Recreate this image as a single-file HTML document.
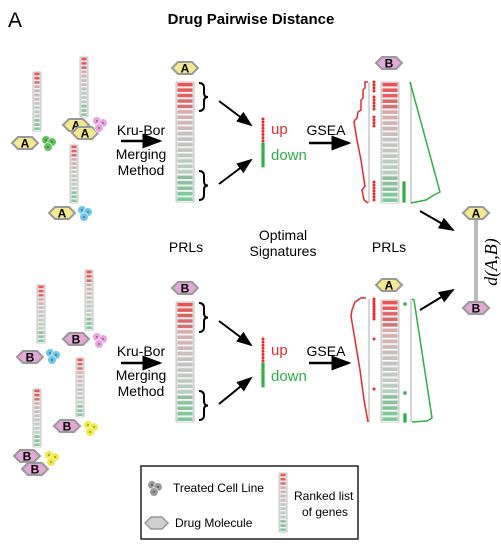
<!DOCTYPE html>
<html><head><meta charset="utf-8"><style>
html,body{margin:0;padding:0;background:#fff;}
svg{display:block;font-family:"Liberation Sans",Arial,sans-serif;}
</style></head><body>
<svg id="fig" width="501" height="547" viewBox="0 0 501 547" xmlns="http://www.w3.org/2000/svg">
<defs>
<marker id="ah" markerWidth="8" markerHeight="6" refX="7" refY="3" orient="auto"><path d="M0,0 L8,3 L0,6 z" fill="#000"/></marker>
</defs>
<text x="8" y="27" font-size="21">A</text>
<text x="251" y="24" font-size="15" font-weight="bold" text-anchor="middle">Drug Pairwise Distance</text>
<rect x="141" y="466" width="217" height="73" fill="#fff" stroke="#222" stroke-width="1.5"/>
<g id="g"></g>
<g font-size="14" text-anchor="middle">
<text x="141" y="135">Kru-Bor</text>
<text x="141" y="159">Merging</text>
<text x="141" y="175">Method</text>
<text x="141" y="356">Kru-Bor</text>
<text x="141" y="380">Merging</text>
<text x="141" y="396">Method</text>
<text x="326" y="135">GSEA</text>
<text x="326" y="356">GSEA</text>
<text x="186" y="252">PRLs</text>
<text x="283" y="240">Optimal</text>
<text x="283" y="256">Signatures</text>
<text x="389" y="252">PRLs</text>
</g>
<g font-size="15">
<text x="271" y="134" fill="#e8282a">up</text>
<text x="271" y="160" fill="#2fae46">down</text>
<text x="271" y="355" fill="#e8282a">up</text>
<text x="271" y="381" fill="#2fae46">down</text>
</g>
<text transform="translate(497,262) rotate(-90)" font-family="Liberation Serif,serif" font-style="italic" font-size="18" text-anchor="middle">d(A,B)</text>
<g font-size="12">
<text x="173" y="492">Treated Cell Line</text>
<text x="175" y="527">Drug Molecule</text>
<text x="294" y="500">Ranked list</text>
<text x="302" y="516">of genes</text>
</g>
</svg>
<script>
const NS='http://www.w3.org/2000/svg';
const G=document.getElementById('g');
function mk(tag,attrs,parent){const e=document.createElementNS(NS,tag);for(const k in attrs)e.setAttribute(k,attrs[k]);(parent||G).appendChild(e);return e;}
function rowColor(t){
  if(t<0.5){const u=t/0.5;return `rgb(${Math.round(240-(240-170)*u)},${Math.round(80+(170-80)*u)},${Math.round(78+(170-78)*u)})`;}
  const u=(t-0.5)/0.5;return `rgb(${Math.round(170-(170-120)*u)},${Math.round(170+(205-170)*u)},${Math.round(170-(170-150)*u)})`;
}
function prl(x,y,w,h,n,name){
  const g=mk('g',{});
  
  
  mk('rect',{x:x,y:y,width:w,height:h,fill:'#e4e4e4',stroke:'#c4c4c4','stroke-width':1,rx:1},g);
  const rh=h/n;
  for(let i=0;i<n;i++){
    const t=i/(n-1);
    mk('rect',{x:x+1.5,y:y+i*rh+rh*0.18,width:w-3,height:rh*0.64,fill:rowColor(t),opacity:(Math.abs(t-0.5)>0.3?1:0.55)},g);
    mk('rect',{x:x+1.5,y:y+i*rh+rh*0.82,width:w-3,height:rh*0.18,fill:'#fff'},g);
  }
}
function hex(cx,cy,letter,fill,name){
  const g=mk('g',{});
  
  
  const w=13,h=6;
  mk('polygon',{points:`${cx-w},${cy} ${cx-w+6},${cy-h} ${cx+w-6},${cy-h} ${cx+w},${cy} ${cx+w-6},${cy+h} ${cx-w+6},${cy+h}`,fill:fill,stroke:'#999','stroke-width':2},g);
  if(letter){const t=mk('text',{x:cx,y:cy+4.5,'font-size':12,'font-weight':'bold','text-anchor':'middle'},g);t.textContent=letter;}
}
function cells(cx,cy,fill,dot,name){
  const g=mk('g',{});
  
  
  [[-3,-3],[3,-1],[-1,4]].forEach(p=>{
    mk('circle',{cx:cx+p[0],cy:cy+p[1],r:4.3,fill:fill,stroke:'#fff','stroke-width':0.6},g);
    mk('circle',{cx:cx+p[0],cy:cy+p[1],r:0.9,fill:dot},g);
  });
}
function arrow(x1,y1,x2,y2,name,w){
  const l=mk('line',{x1:x1,y1:y1,x2:x2,y2:y2,stroke:'#000','stroke-width':w||2,'marker-end':'url(#ah)'});
  
  
}
function brace(x,y1,y2,name){
  const m=(y1+y2)/2;
  const p=mk('path',{d:`M${x},${y1} Q${x+5},${y1} ${x+5},${y1+5} L${x+5},${m-4} Q${x+5},${m} ${x+9},${m} Q${x+5},${m} ${x+5},${m+4} L${x+5},${y2-5} Q${x+5},${y2} ${x},${y2}`,fill:'none',stroke:'#000','stroke-width':2});
  
  
}
function dots(x,y1,n,step,color,name,sq){
  const g=mk('g',{});
  
  
  for(let i=0;i<n;i++){
    if(sq) mk('rect',{x:x-1.6,y:y1+i*step-1.6,width:3.2,height:3.2,fill:color},g);
    else mk('circle',{cx:x,cy:y1+i*step,r:1.5,fill:color},g);
  }
}
function poly(pts,color,name,w){
  const p=mk('polyline',{points:pts.map(p=>p.join(',')).join(' '),fill:'none',stroke:color,'stroke-width':w||1.5});
  
  
}
function vline(x,y1,y2,name,color,w){
  const l=mk('line',{x1:x,y1:y1,x2:x,y2:y2,stroke:color||'#bbb','stroke-width':w||1.2});
  
  
}
const YEL='#f3ea8e', PINK='#e3a7d8';
prl(33,72,8,59,14,'small-prl-a1');
prl(80,57,8,60,14,'small-prl-a2');
prl(70,145,8,58,14,'small-prl-a3');
hex(25,143,'A',YEL,'drug-a-hex-1');
cells(49,143,'#5fc25a','#1b6e22','cell-line-green');
hex(76,125,'A',YEL,'drug-a-hex-2');
hex(85,133,'A',YEL,'drug-a-hex-3');
cells(100,124,'#e7a4dd','#a1308f','cell-line-pink');
hex(62,213,'A',YEL,'drug-a-hex-4');
cells(85,213,'#6cc6ea','#1a5f9a','cell-line-blue');
arrow(121,141,160,141,'merge-arrow-top',2.5);
hex(185,68,'A',YEL,'prl-a-hex');
prl(176,82,18,120,22,'prl-a');
brace(199,83,111,'up-brace-top');
brace(199,171,200,'down-brace-top');
arrow(219,101,251,125,'to-up-arrow-top');
arrow(219,184,251,160,'to-down-arrow-top');
dots(263,119,8,3.1,'#e8282a','up-signature-top');
dots(263,144,8,3.1,'#2fae46','down-signature-top',true);
arrow(309,143,349,143,'gsea-arrow-top',2.5);
hex(389,63,'B',PINK,'prl-b-hex');
prl(381,82,18,121,22,'prl-b');
vline(369,82,203,'es-axis-up-top');
vline(411,82,203,'es-axis-down-top');
poly([[368,82],[365,82],[365,88],[363,90],[363,98],[361,100],[361,110],[358,112],[357,118],[355,120],[354,122],[357,140],[361,160],[364,180],[365,186],[362,190],[364,200],[368,203]],'#e8282a','running-es-up-top');
dots(374,82,4,3,'#e8282a','hits-up-top-a');
dots(374,97,5,3,'#e8282a','hits-up-top-b');
dots(374,117,4,3,'#e8282a','hits-up-top-c');
dots(374,182,7,3,'#e8282a','hits-up-top-d');
dots(404,183,7,3,'#2fae46','hits-down-top',true);
poly([[410,82],[440,192],[434,195],[426,200],[411,203]],'#2fae46','running-es-down-top');
arrow(420,211,453,230,'to-distance-arrow-top');
vline(476,216,303,'distance-bar','#bbb',4);
hex(476,213,'A',YEL,'distance-hex-a');
hex(476,308,'B',PINK,'distance-hex-b');
prl(37,285,8,58,14,'small-prl-b1');
prl(85,270,8,60,14,'small-prl-b2');
prl(76,358,8,59,14,'small-prl-b3');
prl(33,389,8,58,14,'small-prl-b4');
hex(30,357,'B',PINK,'drug-b-hex-1');
cells(53,356,'#6cc6ea','#1a5f9a','cell-line-blue-b');
hex(76,339,'B',PINK,'drug-b-hex-2');
cells(100,340,'#e7a4dd','#a1308f','cell-line-pink-b');
hex(67,426,'B',PINK,'drug-b-hex-3');
cells(91,428,'#f2ea43','#8a7d10','cell-line-yellow-b');
hex(27,456,'B',PINK,'drug-b-hex-4');
hex(35,469,'B',PINK,'drug-b-hex-5');
cells(52,458,'#f2ea43','#8a7d10','cell-line-yellow-b2');
arrow(121,363,160,363,'merge-arrow-bottom',2.5);
hex(185,288,'B',PINK,'prl-b-main-hex');
prl(176,302,18,120,22,'prl-b-main');
brace(199,303,332,'up-brace-bottom');
brace(199,391,420,'down-brace-bottom');
arrow(219,321,251,345,'to-up-arrow-bottom');
arrow(219,404,251,378,'to-down-arrow-bottom');
dots(263,339,8,3.1,'#e8282a','up-signature-bottom');
dots(263,364,8,3.1,'#2fae46','down-signature-bottom',true);
arrow(309,363,349,363,'gsea-arrow-bottom',2.5);
hex(389,285,'A',YEL,'prl-a2-hex');
prl(381,300,18,122,22,'prl-a2');
vline(369,299,422,'es-axis-up-bottom');
vline(411,299,422,'es-axis-down-bottom');
poly([[366,298],[361,298],[355,302],[352,310],[351,316],[355,340],[360,370],[364,400],[368,422]],'#e8282a','running-es-up-bottom');
dots(374,299,9,2.5,'#e8282a','hits-up-bottom-a');
dots(374,339,1,3,'#e8282a','hits-up-bottom-b');
dots(374,389,1,3,'#e8282a','hits-up-bottom-c');
dots(405,304,1,3,'#2fae46','hits-down-bottom-a',true);
dots(405,393,1,3,'#2fae46','hits-down-bottom-b',true);
dots(405,415,3,3,'#2fae46','hits-down-bottom-c',true);
poly([[412,299],[414,300],[432,418],[427,421],[412,422]],'#2fae46','running-es-down-bottom');
arrow(420,310,453,290,'to-distance-arrow-bottom');
cells(155,488,'#9a9a9a','#444','legend-cell-icon');
const lg=mk('polygon',{points:'145,523 151,517 162,517 168,523 162,529 151,529',fill:'#cfcfcf',stroke:'#999','stroke-width':1.5});


prl(279,473,8,59,14,'legend-prl-icon');
</script>
</body></html>
